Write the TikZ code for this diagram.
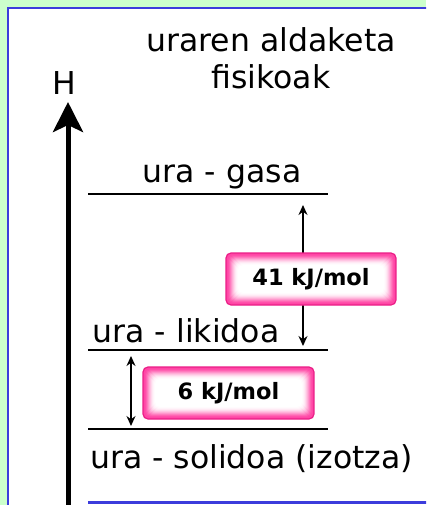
\documentclass[tikz,border=0pt]{standalone}
\usepackage{fontspec}
\setmainfont{DejaVu Sans}
\usetikzlibrary{arrows.meta}
\definecolor{bggreen}{RGB}{204,255,204}
\definecolor{frameblue}{RGB}{60,60,220}
\definecolor{pinkedge}{RGB}{235,30,135}
\definecolor{pinkglowc}{RGB}{255,70,165}
\tikzset{
  bigtxt/.style={font=\fontsize{31.5}{38}\selectfont, inner sep=0pt, anchor=base},
  level/.style={line width=2.6pt, black},
  gap/.style={line width=1.4pt, black, {Stealth[length=10pt,width=9pt]}-{Stealth[length=10pt,width=9pt]}},
  pinkbox/.style={rounded corners=5pt, fill=white, draw=pinkedge, line width=1.2pt,
    font=\bfseries\fontsize{22.5}{27}\selectfont, inner sep=0pt,
    path picture={
      \foreach \i/\p in {0/100,1/100,2/95,3/85,4/72,5/58,6/44,7/32,8/21,9/12,10/6,11/2} {
        \fill[pinkglowc!\p!white, rounded corners=5pt]
          ([shift={(\i pt,-\i pt)}]path picture bounding box.north west) rectangle
          ([shift={(-\i pt,\i pt)}]path picture bounding box.south east);
      }
      \fill[white, rounded corners=5pt]
          ([shift={(12pt,-12pt)}]path picture bounding box.north west) rectangle
          ([shift={(-12pt,12pt)}]path picture bounding box.south east);
    }}
}
\begin{document}
\begin{tikzpicture}[x=1pt,y=-1pt]
\useasboundingbox (0,0) rectangle (426,505);
\clip (0,0) rectangle (426,505);
\fill[bggreen] (0,0) rectangle (426,505);
\filldraw[fill=white, draw=frameblue, line width=2.5pt] (8,8) rectangle (440,530);
\draw[frameblue, line width=2.5pt] (88,502.5) -- (440,502.5);
% axis
\coordinate (axb) at (68,520);
\coordinate (axt) at (68,102);
\draw[line width=5pt, -{Stealth[length=30pt,width=30pt,inset=7pt]}] (axb) -- (axt);
\node[bigtxt] (H) at (64,95) {H};
% title
\node[bigtxt] (t1) at (271,52) {uraren aldaketa};
\node[bigtxt] (t2) at (271,89) {fisikoak};
% levels
\coordinate (g1) at (88,194); \coordinate (g2) at (328,194);
\coordinate (l1) at (88,350); \coordinate (l2) at (328,350);
\coordinate (s1) at (88,429); \coordinate (s2) at (328,429);
\draw[level] (g1) -- (g2);
\draw[level] (l1) -- (l2);
\draw[level] (s1) -- (s2);
\node[bigtxt] (gas) at (222,182) {ura - gasa};
\node[bigtxt] (liq) at (186,342) {ura - likidoa};
\node[bigtxt] (sol) at (251.5,468) {ura - solidoa (izotza)};
% gaps
\coordinate (a1t) at (303,205); \coordinate (a1b) at (303,346);
\draw[gap] (a1t) -- (a1b);
\coordinate (a2t) at (131,356); \coordinate (a2b) at (131,426);
\draw[gap] (a2t) -- (a2b);
\node[pinkbox, minimum width=170pt, minimum height=52pt] (b41) at (311,279) {41 kJ/mol};
\node[pinkbox, minimum width=171pt, minimum height=52pt] (b6) at (228.5,393) {6 kJ/mol};
\end{tikzpicture}
\end{document}
